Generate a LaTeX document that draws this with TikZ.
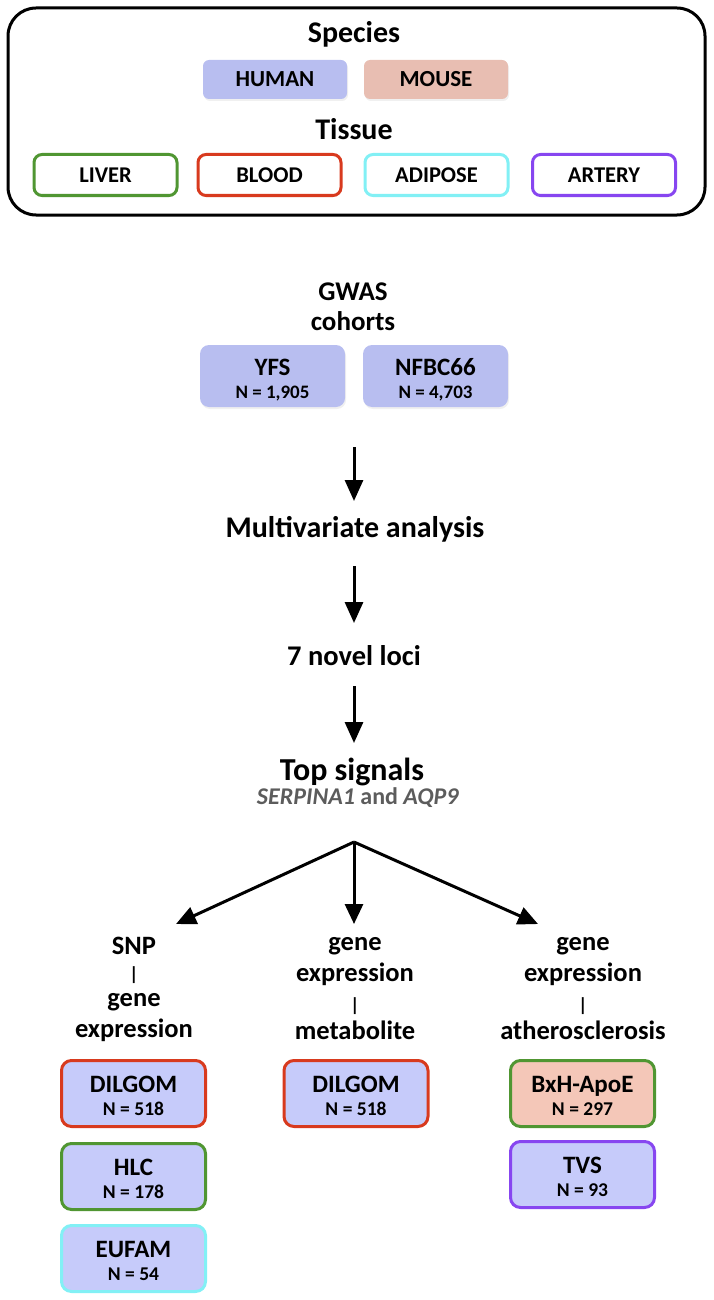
\documentclass[tikz,border=0pt]{standalone}
\usepackage{fontspec}
\setmainfont{Carlito}
\usetikzlibrary{arrows.meta,shadows}
\definecolor{humanfill}{HTML}{B8BEF0}
\definecolor{mousefill}{HTML}{E8BEB2}
\definecolor{hbox}{HTML}{C6CBFA}
\definecolor{mbox}{HTML}{F4C7B8}
\definecolor{livercol}{HTML}{509632}
\definecolor{bloodcol}{HTML}{D83A1E}
\definecolor{adipcol}{HTML}{82F0F5}
\definecolor{artcol}{HTML}{8746F0}
\definecolor{greytxt}{HTML}{5C5C5C}
\newcommand{\fs}[1]{\fontsize{#1}{#1}\selectfont\bfseries}
\tikzset{
  head/.style={anchor=base, inner sep=0pt, font=\fs{30}},
  lab/.style={anchor=base, inner sep=0pt, font=\fs{26.5}},
  barlab/.style={anchor=base, inner sep=0pt, font=\fs{19}},
  studyname/.style={anchor=base, inner sep=0pt, font=\fs{25}},
  studycount/.style={anchor=base, inner sep=0pt, font=\fs{19.5}},
  species/.style={rounded corners=6pt, minimum width=144pt, minimum height=39pt, inner sep=0pt, font=\fs{23},
     drop shadow={opacity=0.12, shadow xshift=1pt, shadow yshift=-2pt}},
  tissue/.style={draw=#1, line width=3pt, fill=white, rounded corners=8pt, minimum width=143pt, minimum height=41pt, inner sep=0pt, font=\fs{22.5}},
  cohort/.style={fill=humanfill, rounded corners=9pt, minimum width=145pt, minimum height=62pt, inner sep=0pt,
     drop shadow={opacity=0.12, shadow xshift=1pt, shadow yshift=-2pt}},
  study/.style={draw=#1, line width=3pt, rounded corners=10pt, minimum width=144pt, minimum height=66pt, inner sep=0pt},
  arr/.style={line width=3pt, -{Triangle[length=21pt,width=18pt]}},
  fan/.style={line width=3pt, -{Triangle[length=20pt,width=18pt]}}
}
\begin{document}
\begin{tikzpicture}[x=1pt,y=-1pt]
\useasboundingbox (0,0) rectangle (714,1300);
% outer frame
\node[draw=black, line width=3pt, rounded corners=28pt, minimum width=697pt, minimum height=207pt, inner sep=0pt] (frame) at (356.5,111.5) {};
\node[head] (species) at (354,43) {Species};
\node[species, fill=humanfill] (human) at (275,79.5) {HUMAN};
\node[species, fill=mousefill] (mouse) at (436,79.5) {MOUSE};
\node[head] (tissuelab) at (354,140) {Tissue};
\node[tissue=livercol] (liver) at (105.5,175) {LIVER};
\node[tissue=bloodcol] (blood) at (269.5,175) {BLOOD};
\node[tissue=adipcol] (adipose) at (436.5,175) {ADIPOSE};
\node[tissue=artcol] (artery) at (604,175) {ARTERY};
% GWAS
\node[anchor=base, inner sep=0pt, font=\fs{27}] (gwas) at (353,300) {GWAS};
\node[anchor=base, inner sep=0pt, font=\fs{27}] (cohorts) at (353,330) {cohorts};
\node[cohort] (yfs) at (272.5,376) {};
\node[studyname] (yfsname) at (272.5,375) {YFS};
\node[anchor=base, inner sep=0pt, font=\fs{19}] (yfsn) at (272.5,398) {N = 1,905};
\node[cohort] (nfbc) at (435.5,376) {};
\node[studyname] (nfbcname) at (435.5,375) {NFBC66};
\node[anchor=base, inner sep=0pt, font=\fs{19}] (nfbcn) at (435.5,398) {N = 4,703};
% chain
\node[head] (multi) at (355,537) {Multivariate analysis};
\node[head, font=\fs{28.5}] (loci) at (354,665) {7 novel loci};
\node[head, font=\fs{32}] (top) at (352,780) {Top signals};
\node[anchor=base, inner sep=0pt, font=\fs{24}, text=greytxt] (genes) at (358,804) {\textit{SERPINA1} and \textit{AQP9}};
\coordinate (a1s) at (354,447);
\coordinate (a1e) at (354,501);
\coordinate (a2s) at (354,566);
\coordinate (a2e) at (354,623);
\coordinate (a3s) at (354,686);
\coordinate (a3e) at (354,743);
\draw[arr] (a1s) -- (a1e);
\draw[arr] (a2s) -- (a2e);
\draw[arr] (a3s) -- (a3e);
\coordinate (apex) at (354,842);
\coordinate (tl) at (176,924);
\coordinate (tm) at (354,924);
\coordinate (tr) at (538,924);
\draw[fan] (apex) -- (tl);
\draw[fan] (apex) -- (tm);
\draw[fan] (apex) -- (tr);
% column labels
\node[lab] (l1) at (134,954) {SNP};
\node[barlab] (l2) at (134,980) {|};
\node[lab] (l3) at (134,1006) {gene};
\node[lab] (l4) at (134,1037) {expression};
\node[lab] (m1) at (355,950) {gene};
\node[lab] (m2) at (355,981) {expression};
\node[barlab] (m3) at (355,1011) {|};
\node[lab] (m4) at (355,1039) {metabolite};
\node[lab] (r1) at (583,950) {gene};
\node[lab] (r2) at (583,981) {expression};
\node[barlab] (r3) at (583,1011) {|};
\node[lab] (r4) at (583,1039) {atherosclerosis};
% studies
\node[study=bloodcol, fill=hbox] (dil1) at (133.5,1093.5) {};
\node[studyname] (dil1a) at (133.5,1092) {DILGOM};
\node[studycount] (dil1b) at (133.5,1115) {N = 518};
\node[study=livercol, fill=hbox] (hlc) at (133.5,1176.5) {};
\node[studyname] (hlca) at (133.5,1175) {HLC};
\node[studycount] (hlcb) at (133.5,1198) {N = 178};
\node[study=adipcol, fill=hbox] (eufam) at (133.5,1258.5) {};
\node[studyname] (eufama) at (133.5,1257) {EUFAM};
\node[studycount] (eufamb) at (133.5,1280) {N = 54};
\node[study=bloodcol, fill=hbox] (dil2) at (356,1093.5) {};
\node[studyname] (dil2a) at (356,1092) {DILGOM};
\node[studycount] (dil2b) at (356,1115) {N = 518};
\node[study=livercol, fill=mbox] (bxh) at (582.5,1093.5) {};
\node[studyname] (bxha) at (582.5,1092) {BxH-ApoE};
\node[studycount] (bxhb) at (582.5,1115) {N = 297};
\node[study=artcol, fill=hbox] (tvs) at (582.5,1174.5) {};
\node[studyname] (tvsa) at (582.5,1173) {TVS};
\node[studycount] (tvsb) at (582.5,1196) {N = 93};
\end{tikzpicture}
\end{document}
